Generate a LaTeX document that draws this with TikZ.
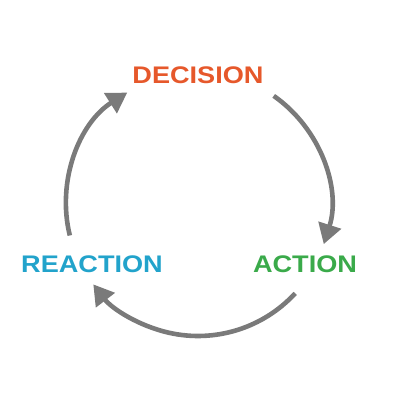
\documentclass[tikz,border=0pt]{standalone}
\usepackage{fontspec}
\newfontfamily\cyclefont{Liberation Sans}[FakeStretch=1.13]
\usetikzlibrary{arrows.meta,positioning}
\definecolor{decisioncol}{HTML}{E6582B}
\definecolor{actioncol}{HTML}{3AAA4A}
\definecolor{reactioncol}{HTML}{22A3CB}
\definecolor{cyclegray}{HTML}{7A7A7A}

\begin{document}
\begin{tikzpicture}[x=1pt,y=1pt,
    stage/.style={font=\cyclefont\bfseries\fontsize{24}{28}\selectfont, inner sep=0pt},
    cyc/.style={draw=cyclegray, line width=4.6pt, -{Triangle[length=20pt,width=23pt]}}]
   \useasboundingbox (0,0) rectangle (400,400);
   \coordinate (c) at (198,196);
   \node[stage,text=decisioncol] (decision) at (198,325) {DECISION};
   \node[stage,text=actioncol]   (action)   at (305,136) {ACTION};
   \node[stage,text=reactioncol] (reaction) at (92,136)  {REACTION};
   % arc start points on the circle
   \coordinate (dout) at ([shift={(55:132)}]c);
   \coordinate (aout) at ([shift={(-42.6:132)}]c);
   \coordinate (rout) at ([shift={(193.8:132)}]c);
   \draw[cyc] (dout) arc[start angle=55, end angle=-17.7, radius=132];
   \draw[cyc] (aout) arc[start angle=-42.6, end angle=-142.5, radius=132];
   \draw[cyc] (rout) arc[start angle=193.8, end angle=122.4, radius=132];
\end{tikzpicture}
\end{document}
